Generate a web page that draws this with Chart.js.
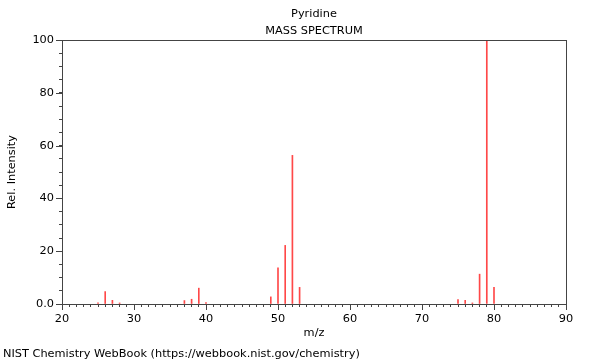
<!DOCTYPE html>
<html>
<head>
<meta charset="utf-8">
<script src="https://cdn.jsdelivr.net/npm/chart.js@4"></script>
<style>
  body { margin: 0; background: #fff; }
  #wrap { position: relative; width: 600px; height: 360px; font-family: "DejaVu Sans", sans-serif; font-size: 11.33px; color: #000; }
  .lbl { position: absolute; white-space: nowrap; }
</style>
</head>
<body>
<div id="wrap">
  <canvas id="myChart" width="600" height="360"></canvas>
  <div class="lbl" style="left:0;width:628px;text-align:center;top:6px">Pyridine</div>
  <div class="lbl" style="left:0;width:628px;text-align:center;top:23px">MASS SPECTRUM</div>
  <div class="lbl" style="left:3px;top:346px">NIST Chemistry WebBook (https://webbook.nist.gov/chemistry)</div>
</div>
<script>
// peaks
var mz = [25, 26, 27, 28, 37, 38, 39, 40, 49, 50, 51, 52, 53, 75, 76, 77, 78, 79, 80];
var intensity = [0.4, 4.7, 1.4, 0.4, 1.3, 1.8, 6.0, 0.5, 2.7, 13.7, 22.2, 56.3, 6.3, 1.7, 1.4, 0.4, 11.3, 100, 6.3];
var xMajor = [20, 30, 40, 50, 60, 70, 80, 90];
var yMajor = [0, 20, 40, 60, 80, 100];

var points = [];
for (var i = 0; i < mz.length; i++) {
  points.push({x: mz[i], y: intensity[i]});
}

var axisColor = "#444";
var font = { family: "DejaVu Sans", size: 11.33 };

// box round the plot and longer major ticks
var frame = {
  id: "frame",
  afterDraw: function (chart) {
    var ctx = chart.ctx, a = chart.chartArea;
    var xs = chart.scales.x, ys = chart.scales.y;
    ctx.save();
    ctx.strokeStyle = axisColor;
    ctx.lineWidth = 1;
    ctx.strokeRect(Math.round(a.left) + 0.5, Math.round(a.top) + 0.5, Math.round(a.right - a.left), Math.round(a.bottom - a.top));
    ctx.beginPath();
    xMajor.forEach(function (v) {
      var px = Math.round(xs.getPixelForValue(v)) + 0.5;
      ctx.moveTo(px, a.bottom);
      ctx.lineTo(px, a.bottom + 6);
    });
    yMajor.forEach(function (v) {
      var py = Math.round(ys.getPixelForValue(v)) + 0.5;
      ctx.moveTo(a.left, py);
      ctx.lineTo(a.left - 6, py);
    });
    ctx.stroke();
    ctx.restore();
  }
};

new Chart("myChart", {
  type: "bar",
  data: {
    datasets: [{
      data: points,
      backgroundColor: "rgba(255,40,40,0.85)",
      barThickness: 1,
      borderWidth: 0
    }]
  },
  options: {
    responsive: false,
    animation: false,
    layout: { padding: { top: 40, right: 34, bottom: 20, left: 0 } },
    plugins: {
      legend: { display: false },
      tooltip: { enabled: false }
    },
    scales: {
      x: {
        type: "linear",
        min: 20,
        max: 90,
        offset: false,
        afterFit: function (s) { s.height = 36; },
        grid: { drawOnChartArea: false, offset: false, tickLength: 3, color: axisColor, tickColor: axisColor },
        border: { color: axisColor },
        ticks: {
          stepSize: 1,
          autoSkip: false,
          maxRotation: 0,
          padding: 5,
          color: "#000",
          font: font,
          callback: function (v) { return v % 10 === 0 ? v : ""; }
        },
        title: { display: true, text: "m/z", color: "#000", padding: { top: 0, bottom: 0 }, font: font }
      },
      y: {
        min: 0,
        max: 100,
        afterFit: function (s) { s.width = 62; },
        grid: { drawOnChartArea: false, tickLength: 3, color: axisColor, tickColor: axisColor },
        border: { color: axisColor },
        ticks: {
          stepSize: 5,
          autoSkip: false,
          padding: 5,
          color: "#000",
          font: font,
          callback: function (v) { return v === 0 ? "0.0" : (v % 20 === 0 ? v : ""); }
        },
        title: { display: true, text: "Rel. Intensity", color: "#000", padding: { top: 5, bottom: 0 }, font: font }
      }
    }
  },
  plugins: [frame]
});
</script>
</body>
</html>
